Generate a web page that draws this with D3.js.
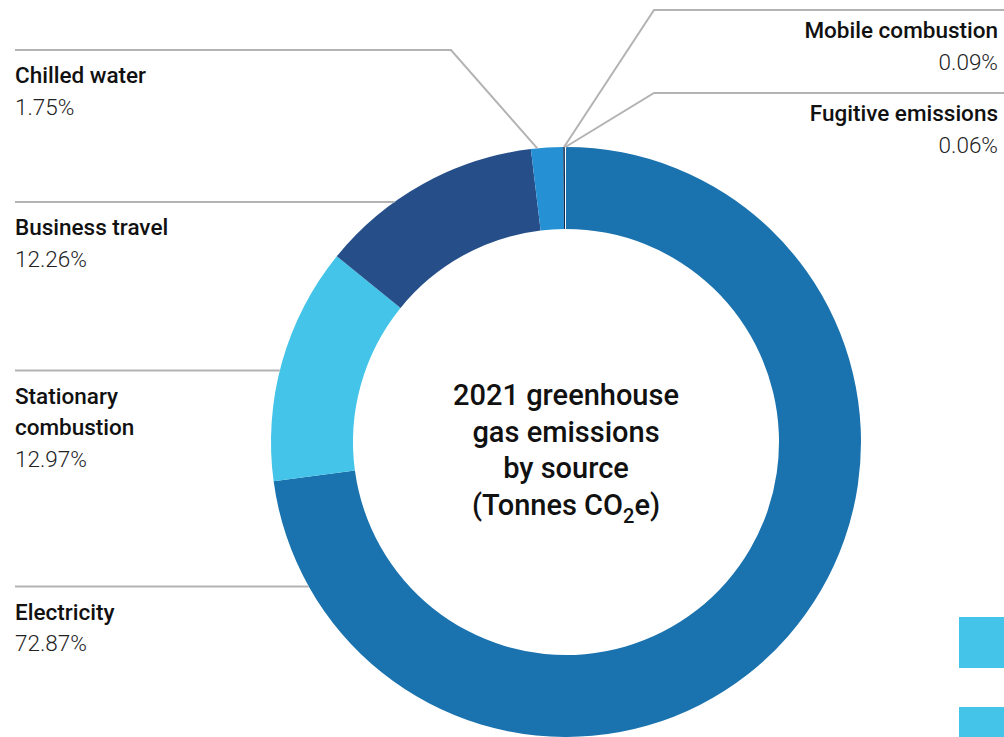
<!DOCTYPE html>
<html>
<head>
<meta charset="utf-8">
<script src="https://cdn.jsdelivr.net/npm/d3@7"></script>
<style>
    body { margin: 0; background: #fff; }
    text { font-family: Roboto, "Noto Sans", sans-serif; }
</style>
</head>
<body>
<div id="chart"></div>
<script>
// data, clockwise from 12 o'clock
var sources = ["Electricity", "Stationary combustion", "Business travel", "Chilled water", "Mobile combustion", "Fugitive emissions"];
var shares = [72.87, 12.97, 12.26, 1.75, 0.09, 0.06];
var shareLabels = ["72.87%", "12.97%", "12.26%", "1.75%", "0.09%", "0.06%"];
var sliceColors = ["#1a72ae", "#43c4e8", "#264f8a", "#2591d4", "#0d2b52", "#ffffff"];

var width = 1004, height = 737;
var cx = 566, cy = 442, outerR = 295, innerR = 213;

var svg = d3.select("#chart").append("svg")
    .attr("width", width)
    .attr("height", height);

var pie = d3.pie().sort(null).value(function (d) { return d; });
var arc = d3.arc().innerRadius(innerR).outerRadius(outerR);
var arcs = pie(shares);

var g = svg.append("g").attr("transform", "translate(" + cx + "," + cy + ")");

g.selectAll("path")
    .data(arcs)
    .enter()
    .append("path")
    .attr("d", arc)
    .style("fill", function (d, i) { return sliceColors[i]; });

// point on the outer edge at a fraction t through slice i
function edgePoint(i, t) {
    var a = arcs[i].startAngle + (arcs[i].endAngle - arcs[i].startAngle) * t;
    return [cx + outerR * Math.sin(a), cy - outerR * Math.cos(a)];
}
// x where a horizontal line at y meets the left side of the ring
function leftEdgeX(y) {
    return cx - Math.sqrt(outerR * outerR - (y - cy) * (y - cy));
}

// leader lines and labels
var lineColor = "#b3b3b3";
var callouts = [
    {i: 3, side: "left", lineY: 50, bendX: 451, t: 0.2, lines: ["Chilled water"]},
    {i: 2, side: "left", lineY: 202, lines: ["Business travel"]},
    {i: 1, side: "left", lineY: 370.5, lines: ["Stationary", "combustion"]},
    {i: 0, side: "left", lineY: 586.5, lines: ["Electricity"]},
    {i: 4, side: "right", lineY: 10, bendX: 654, t: 0.5, lines: ["Mobile combustion"]},
    {i: 5, side: "right", lineY: 93, bendX: 654, t: 0.5, lines: ["Fugitive emissions"]}
];

callouts.forEach(function (c) {
    var pts;
    if (c.side === "left") {
        if (c.bendX) {
            pts = [[15, c.lineY], [c.bendX, c.lineY], edgePoint(c.i, c.t)];
        } else {
            pts = [[15, c.lineY], [leftEdgeX(c.lineY), c.lineY]];
        }
    } else {
        pts = [[width, c.lineY], [c.bendX, c.lineY], edgePoint(c.i, c.t)];
    }
    svg.append("path")
        .attr("d", d3.line()(pts))
        .style("fill", "none")
        .style("stroke", lineColor)
        .style("stroke-width", 2);

    var x = c.side === "left" ? 15 : 998;
    var anchor = c.side === "left" ? "start" : "end";
    var y = c.lineY + (c.side === "left" ? 33 : 28);
    c.lines.forEach(function (t, k) {
        svg.append("text")
            .attr("x", x)
            .attr("y", y + k * 31.5)
            .attr("text-anchor", anchor)
            .style("font-size", "22.5px")
            .style("font-weight", 500)
            .style("fill", "#111")
            .text(t);
    });
    svg.append("text")
        .attr("x", x)
        .attr("y", y + c.lines.length * 31.5)
        .attr("text-anchor", anchor)
        .style("font-size", "22.5px")
        .style("font-weight", 300)
        .style("fill", "#222")
        .text(shareLabels[c.i]);
});

// centre title
var title = ["2021 greenhouse", "gas emissions", "by source"];
title.forEach(function (t, k) {
    svg.append("text")
        .attr("x", cx)
        .attr("y", 405 + k * 36.5)
        .attr("text-anchor", "middle")
        .style("font-size", "29px")
        .style("font-weight", 500)
        .style("fill", "#111")
        .text(t);
});
var last = svg.append("text")
    .attr("x", cx)
    .attr("y", 405 + 3 * 36.5)
    .attr("text-anchor", "middle")
    .style("font-size", "29px")
    .style("font-weight", 500)
    .style("fill", "#111");
last.append("tspan").text("(Tonnes CO");
last.append("tspan").attr("dy", 8).style("font-size", "20px").text("2");
last.append("tspan").attr("dy", -8).text("e)");

// legend swatches cut off at the right edge
var swatchY = [617, 707];
svg.selectAll("rect.swatch")
    .data(swatchY)
    .enter()
    .append("rect")
    .attr("class", "swatch")
    .attr("x", 959)
    .attr("y", function (d) { return d; })
    .attr("width", 60)
    .attr("height", 51)
    .style("fill", "#43c4e8");
</script>
</body>
</html>
